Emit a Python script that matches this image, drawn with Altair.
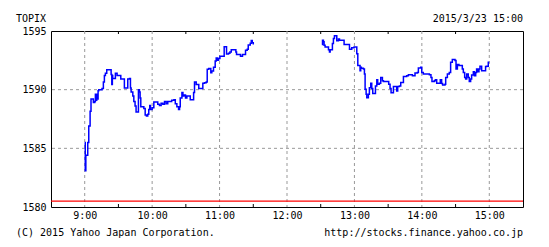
import altair as alt
import pandas as pd

# minutes after 9:00, TOPIX values
am_t = [0, 0.5, 1, 2.7, 3.6, 4.8, 5.6, 7.7, 8.9, 9.5, 10.1, 10.7, 11.3, 11.9, 12.5, 15.4, 16.6, 17.5,
        18.4, 19.6, 23.5, 24.1, 24.6, 24.9, 27.3, 28.8, 32.1, 35.3, 38.3, 39.8, 40.7, 41.3, 42.8, 43.7,
        44.8, 45.7, 47.8, 48.7, 49.3, 49.9, 52.6, 53.8, 54.9, 56.1, 57.0, 57.9, 58.5, 60.0, 61.5, 65.0,
        66.5, 68.0, 69.5, 71.0, 72.5, 73.9, 77.4, 79.4, 80.6, 82.0, 83.5, 84.4, 85.0, 86.5, 87.4, 88.3,
        89.7, 90.9, 93.9, 96.9, 97.7, 99.2, 101.5, 105.1, 106.6, 108.1, 109.0, 110.4, 112.2, 113.1,
        114.6, 116.1, 117.0, 118.2, 119.1, 120.3, 124.1, 126.2, 128.0, 129.2, 130.4, 134.5, 135.1,
        138.6, 140.4, 143.1, 144.6, 145.5, 147.3, 148.2, 149.1, 150]
am_v = [1585.5, 1583.1, 1584.4, 1585.5, 1586.9, 1588.15, 1589.2, 1588.9, 1589.0, 1589.6, 1589.1, 1589.6,
        1589.2, 1589.9, 1590.0, 1590.1, 1590.65, 1591.2, 1591.4, 1591.7, 1591.3, 1590.45, 1591.2, 1590.95,
        1591.4, 1591.2, 1590.9, 1590.15, 1590.9, 1590.95, 1590.15, 1589.8, 1589.45, 1589.0, 1588.6,
        1588.1, 1590.0, 1589.8, 1589.3, 1588.55, 1588.4, 1587.85, 1587.75, 1587.9, 1588.3, 1588.65,
        1588.3, 1588.45, 1588.95, 1588.75, 1588.65, 1588.85, 1588.75, 1589.0, 1588.8, 1589.0, 1589.1,
        1589.15, 1588.8, 1588.55, 1588.3, 1588.55, 1589.3, 1589.75, 1589.45, 1589.55, 1589.3, 1589.45,
        1589.15, 1589.75, 1590.65, 1590.45, 1590.1, 1590.55, 1590.6, 1590.65, 1591.75, 1591.8, 1591.45,
        1591.6, 1591.9, 1592.45, 1592.7, 1592.5, 1592.65, 1592.85, 1593.65, 1593.05, 1593.1, 1593.2,
        1593.4, 1593.2, 1593.0, 1592.85, 1593.0, 1593.35, 1593.45, 1593.8, 1593.95, 1594.2, 1594.0,
        1593.85]

pm_t = [211.0, 211.6, 212.4, 213.0, 213.9, 216.9, 217.8, 218.4, 220.4, 221.3, 222.2, 224.3, 225.8, 226.7,
        230.8, 235.6, 237.6, 239.7, 242.1, 243.0, 245.0, 245.6, 246.2, 248.0, 248.9, 249.5, 250.4, 251.0,
        252.4, 253.3, 254.5, 255.4, 256.3, 258.7, 259.9, 260.7, 262.2, 263.4, 264.9, 265.8, 270.5, 271.7,
        272.6, 274.7, 277.6, 278.5, 280.0, 281.2, 283.6, 286.5, 288.0, 291.6, 293.9, 296.0, 296.9, 299.0,
        299.9, 301.3, 306.7, 308.1, 309.0, 311.1, 312.0, 313.2, 316.4, 317.6, 318.5, 320.6, 321.2, 322.7,
        324.4, 325.6, 327.1, 329.5, 330.4, 331.6, 333.0, 336.0, 336.9, 338.1, 339.0, 339.9, 341.3, 342.2,
        343.4, 344.3, 345.8, 346.7, 347.9, 348.7, 349.6, 350.8, 351.7, 353.2, 356.7, 357.6, 359.1, 360.0]
pm_v = [1593.84, 1594.22, 1594.08, 1593.79, 1593.64, 1593.41, 1593.21, 1593.41, 1593.93, 1594.36, 1594.6,
        1594.16, 1594.31, 1594.22, 1593.84, 1593.44, 1593.58, 1593.64, 1593.06, 1592.05, 1591.62,
        1591.91, 1591.82, 1591.76, 1591.33, 1590.03, 1589.6, 1589.31, 1589.6, 1590.17, 1590.55, 1590.09,
        1589.68, 1590.32, 1590.84, 1590.46, 1590.55, 1591.04, 1590.75, 1590.69, 1590.46, 1590.09,
        1589.74, 1590.26, 1589.88, 1590.26, 1590.32, 1590.61, 1591.13, 1591.18, 1591.27, 1591.18,
        1591.42, 1591.47, 1591.85, 1591.91, 1591.47, 1591.33, 1591.27, 1591.04, 1590.69, 1590.75,
        1590.84, 1590.55, 1590.84, 1590.52, 1590.4, 1590.46, 1591.04, 1591.33, 1591.47, 1592.34,
        1592.57, 1592.49, 1591.76, 1592.14, 1592.05, 1591.76, 1591.47, 1591.04, 1590.9, 1591.33,
        1591.04, 1590.69, 1590.9, 1591.24, 1591.53, 1591.18, 1591.47, 1591.76, 1591.53, 1591.76,
        1591.99, 1591.62, 1591.97, 1591.99, 1592.34, 1592.34]

prev_close = [1580.5]
hour_ticks = [0, 60, 120, 180, 240, 300, 360]
half_ticks = [30, 90, 150, 210, 270, 330]
y_grid = [1585, 1590]
y_ticks = [1580, 1585, 1590, 1595]

FONT = "DejaVu Sans Mono"
xs = alt.Scale(domain=[-30, 390], nice=False, zero=False)
ys = alt.Scale(domain=[1580, 1595], nice=False, zero=False)

price = pd.DataFrame({
    "t": am_t + pm_t,
    "v": am_v + pm_v,
    "session": ["am"] * len(am_t) + ["pm"] * len(pm_t),
})

grid_x = alt.Chart(pd.DataFrame({"t": hour_ticks})).mark_rule(
    color="#999999", strokeDash=[3, 3], strokeWidth=1
).encode(x=alt.X("t:Q", scale=xs,
                 axis=alt.Axis(values=hour_ticks, title=None, grid=False, domain=False, tickSize=0,
                               labelPadding=3,
                               labelExpr="(floor(datum.value/60)+9) + ':00'")))

grid_y = alt.Chart(pd.DataFrame({"v": y_grid})).mark_rule(
    color="#999999", strokeDash=[3, 3], strokeWidth=1
).encode(y=alt.Y("v:Q", scale=ys,
                 axis=alt.Axis(values=y_ticks, title=None, grid=False, domain=False, tickSize=0,
                               labelPadding=5, format="d")))

red = alt.Chart(pd.DataFrame({"v": prev_close})).mark_rule(color="#ff0000", strokeWidth=1.2).encode(
    y=alt.Y("v:Q", scale=ys))

ht = pd.DataFrame({"t": half_ticks})
top_ticks = alt.Chart(ht).mark_rule(color="black", strokeWidth=1).encode(
    x=alt.X("t:Q", scale=xs), y=alt.value(0), y2=alt.value(3))
bot_ticks = alt.Chart(ht).mark_rule(color="black", strokeWidth=1).encode(
    x=alt.X("t:Q", scale=xs), y=alt.value(176), y2=alt.value(173))

line = alt.Chart(price).mark_line(interpolate="step-after", color="#0000ff", strokeWidth=1.5).encode(
    x=alt.X("t:Q", scale=xs), y=alt.Y("v:Q", scale=ys), detail="session:N")

def label(txt, x, y, align):
    return alt.Chart(pd.DataFrame({"s": [txt]})).mark_text(
        font=FONT, fontSize=10, color="black", align=align, baseline="alphabetic"
    ).encode(x=alt.value(x), y=alt.value(y), text="s:N")

texts = [
    label("TOPIX", -35, -9, "left"),
    label("2015/3/23 15:00", 472, -9, "right"),
    label("(C) 2015 Yahoo Japan Corporation.", -35, 205, "left"),
    label("http://stocks.finance.yahoo.co.jp", 472, 205, "right"),
]

chart = alt.layer(grid_x, grid_y, red, top_ticks, bot_ticks, line, *texts).properties(
    width=472, height=176,
    autosize=alt.AutoSizeParams(type="none"),
    padding={"left": 51, "top": 31, "right": 26, "bottom": 40},
    background="white",
).configure_view(stroke="black", strokeWidth=1).configure_axis(
    labelFont=FONT, labelFontSize=10, labelColor="black"
)

chart.save("out.html", embed_options={"renderer": "svg", "actions": False})
